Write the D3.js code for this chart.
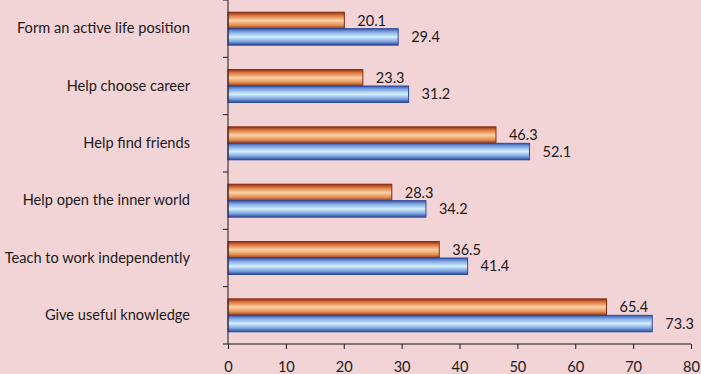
<!DOCTYPE html>
<html><head><meta charset="utf-8">
<script src="https://cdn.jsdelivr.net/npm/d3@7"></script>
<style>body{margin:0;background:#f2d3d6;} svg{display:block;} text{font-family:Lato,"Open Sans",sans-serif;fill:#1a1a1a;}</style>
</head><body><svg id="c" width="701" height="374"></svg>
<script>
const categories = ["Form an active life position","Help choose career","Help find friends","Help open the inner world","Teach to work independently","Give useful knowledge"];
const seriesNames = ["orange","blue"];
const orangeValues = [20.1,23.3,46.3,28.3,36.5,65.4];
const blueValues = [29.4,31.2,52.1,34.2,41.4,73.3];
const xTicks = [0,10,20,30,40,50,60,70,80];

(function(){
const svg = d3.select("#c");
svg.append("rect").attr("width",701).attr("height",374).attr("fill","#f2d3d6");
const defs = svg.append("defs");
function grad(id, stops){
  const g = defs.append("linearGradient").attr("id",id).attr("x1",0).attr("y1",0).attr("x2",0).attr("y2",1);
  stops.forEach(s=>g.append("stop").attr("offset",s[0]).attr("stop-color",s[1]));
}
grad("gO",[[0,"#8e2d12"],[0.18,"#d9703a"],[0.5,"#fbd2a4"],[0.78,"#e59256"],[1,"#96361a"]]);
grad("gB",[[0,"#3658a8"],[0.2,"#7fa6e4"],[0.5,"#d2f0fc"],[0.78,"#7ea4e2"],[1,"#2c4894"]]);

const mLeft = 228, mRight = 691, mTop = 0, mBottom = 344;
const x = d3.scaleLinear().domain([0,80]).range([mLeft,mRight]);
const y = d3.scaleBand().domain(categories).range([mTop,mBottom]).padding(0);
const y1 = d3.scaleBand().domain(seriesNames).range([0,y.bandwidth()]).paddingInner(0).paddingOuter(0.74);

const data = categories.map((c,i)=>({c, vals:[{s:"orange",v:orangeValues[i]},{s:"blue",v:blueValues[i]}]}));
const g = svg.append("g");
const grp = g.selectAll("g.cat").data(data).join("g").attr("transform",d=>`translate(0,${y(d.c)})`);
grp.selectAll("rect").data(d=>d.vals).join("rect")
  .attr("x",x(0)).attr("y",d=>y1(d.s)).attr("width",d=>x(d.v)-x(0)).attr("height",y1.bandwidth())
  .attr("fill",d=>d.s==="orange"?"url(#gO)":"url(#gB)")
  .attr("stroke",d=>d.s==="orange"?"#8a2c12":"#2d4b9a").attr("stroke-width",1);
grp.selectAll("text.val").data(d=>d.vals).join("text").attr("class","val")
  .attr("x",d=>x(d.v)+13).attr("y",d=>y1(d.s)+y1.bandwidth()/2).attr("dy","0.35em")
  .attr("font-size",14.5).text(d=>d.v.toFixed(1));

const ya = d3.axisLeft(y).tickSize(0).tickPadding(38);
const yg = svg.append("g").attr("transform",`translate(${mLeft},0)`).call(ya);
yg.select(".domain").remove();
yg.selectAll("text").attr("font-size",14.6).attr("fill","#1a1a1a");
svg.append("line").attr("x1",mLeft).attr("x2",mLeft).attr("y1",mTop).attr("y2",mBottom).attr("stroke","#1a1a1a");
const bounds = [mTop].concat(categories.map(c=>y(c)+y.bandwidth()));
svg.selectAll("line.yt").data(bounds).join("line").attr("class","yt")
  .attr("x1",mLeft-5).attr("x2",mLeft).attr("y1",d=>d).attr("y2",d=>d).attr("stroke","#1a1a1a");

const xa = d3.axisBottom(x).tickValues(xTicks).tickSize(5).tickPadding(13).tickFormat(d3.format("d"));
const xg = svg.append("g").attr("transform",`translate(0,${mBottom})`).call(xa);
xg.select(".domain").attr("d",`M${mLeft},0H${mRight}`).attr("stroke","#1a1a1a");
xg.selectAll("line").attr("stroke","#1a1a1a");
xg.selectAll("text").attr("font-size",14.6).attr("fill","#1a1a1a");
})();
</script></body></html>
